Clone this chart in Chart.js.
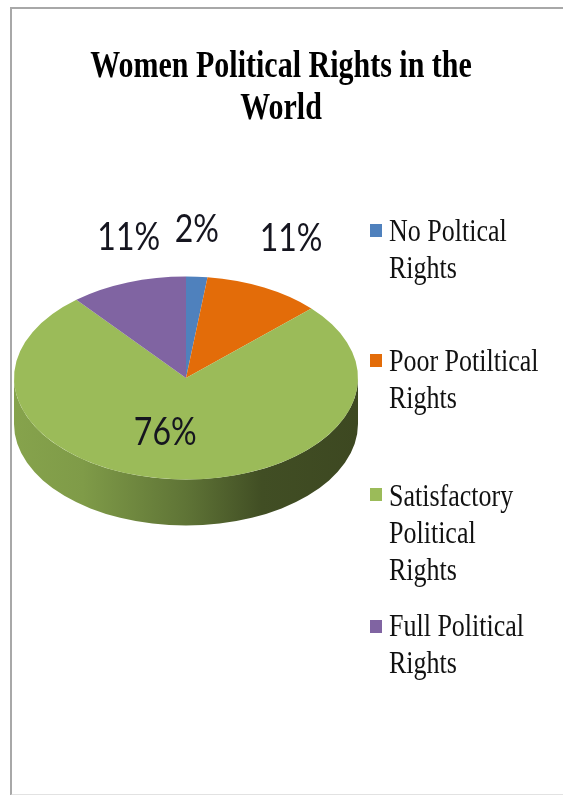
<!DOCTYPE html>
<html>
<head>
<meta charset="utf-8">
<title>Women Political Rights in the World</title>
<script src="https://cdn.jsdelivr.net/npm/chart.js@4"></script>
<style>
  html, body { margin: 0; padding: 0; background: #fff; overflow: hidden; }
  #page { position: relative; width: 563px; height: 795px; overflow: hidden; filter: blur(0.5px); }
  #frame { position: absolute; left: 10px; top: 7px; width: 600px; height: 785px; border: 2px solid #a8a8a8; border-bottom-color: #e2e2e2; }
  #chart { position: absolute; left: 0; top: 0; }
  #title {
    position: absolute; left: 0; top: 43px; width: 562px; text-align: center;
    font: bold 30px/33.3px "Liberation Serif", serif; color: #000;
    transform: scaleY(1.26); transform-origin: top;
  }
  .legend-item {
    position: absolute; left: 389px; width: 174px;
    font: 26px/29.6px "Liberation Serif", serif; color: #111;
    transform: scaleY(1.25); transform-origin: top;
  }
  .legend-box { position: absolute; left: 370px; width: 12px; height: 13px; }
</style>
</head>
<body>
<div id="page">
  <div id="frame"></div>
  <canvas id="chart" width="563" height="795"></canvas>
  <div id="title"></div>
  <div id="legend"></div>
</div>
<script>
// Chart data
const titleLines = ["Women Political Rights in the", "World"];
const categories = ["No Poltical Rights", "Poor Potiltical Rights", "Satisfactory Political Rights", "Full Political Rights"];
const legendLines = [
  ["No Poltical", "Rights"],
  ["Poor Potiltical", "Rights"],
  ["Satisfactory", "Political", "Rights"],
  ["Full Political", "Rights"]
];
const shares = [2, 11, 76, 11];
const sliceColors = ["#4f81bd", "#e36c09", "#9bbb59", "#8064a2"];

// Look of the tilted pie
const tilt = 0.59;
const depth = 46;
const labelOffsets = [[0, -47], [27, -49], [-10, -47], [1, -45]];
const legendTops = [212, 342, 477, 607];
const boxTops = [224, 354, 488, 620];

document.getElementById("title").innerHTML = titleLines.join("<br>");

const legend = document.getElementById("legend");
legendLines.forEach((lines, i) => {
  const box = document.createElement("div");
  box.className = "legend-box";
  box.style.top = boxTops[i] + "px";
  box.style.background = sliceColors[i];
  legend.appendChild(box);

  const item = document.createElement("div");
  item.className = "legend-item";
  item.style.top = legendTops[i] + "px";
  item.innerHTML = lines.join("<br>");
  legend.appendChild(item);
});

// Squashes the round pie into an ellipse and adds the side wall under it
const tiltedPie = {
  id: "tiltedPie",
  beforeDatasetsDraw(chart) {
    const ctx = chart.ctx;
    const arc = chart.getDatasetMeta(0).data[0];
    const { x, y, outerRadius: r } = arc;
    const ry = r * tilt;

    const wall = ctx.createLinearGradient(x - r, 0, x + r, 0);
    wall.addColorStop(0, "#86a34c");
    wall.addColorStop(0.2, "#7f9b48");
    wall.addColorStop(0.5, "#5f7436");
    wall.addColorStop(0.72, "#414e24");
    wall.addColorStop(1, "#3d4821");

    ctx.save();
    ctx.beginPath();
    ctx.ellipse(x, y, r, ry, 0, 0, Math.PI);
    ctx.lineTo(x - r, y + depth);
    ctx.ellipse(x, y + depth, r, ry, 0, Math.PI, 0, true);
    ctx.closePath();
    ctx.fillStyle = wall;
    ctx.fill();
    ctx.restore();

    ctx.save();
    ctx.translate(x, y);
    ctx.scale(1, tilt);
    ctx.translate(-x, -y);
  },
  afterDatasetsDraw(chart) {
    const ctx = chart.ctx;
    ctx.restore();

    // percent labels, placed from each slice's middle angle
    chart.getDatasetMeta(0).data.forEach((arc, i) => {
      const mid = (arc.startAngle + arc.endAngle) / 2;
      const px = arc.x + Math.cos(mid) * arc.outerRadius + labelOffsets[i][0];
      const py = arc.y + Math.sin(mid) * arc.outerRadius * tilt + labelOffsets[i][1];
      ctx.save();
      ctx.translate(px, py);
      ctx.scale(1, 1.2);
      ctx.font = '32px Lato, sans-serif';
      ctx.fillStyle = "#15151f";
      ctx.textAlign = "center";
      ctx.textBaseline = "middle";
      ctx.fillText(shares[i] + "%", 0, 0);
      ctx.restore();
    });
  }
};

new Chart(document.getElementById("chart"), {
  type: "pie",
  data: {
    labels: categories,
    datasets: [{
      data: shares,
      backgroundColor: sliceColors,
      borderWidth: 0
    }]
  },
  options: {
    responsive: false,
    animation: false,
    layout: { padding: { left: 14, right: 205, top: 206, bottom: 245 } },
    plugins: {
      legend: { display: false },
      title: { display: false },
      tooltip: { enabled: false }
    }
  },
  plugins: [tiltedPie]
});
</script>
</body>
</html>
